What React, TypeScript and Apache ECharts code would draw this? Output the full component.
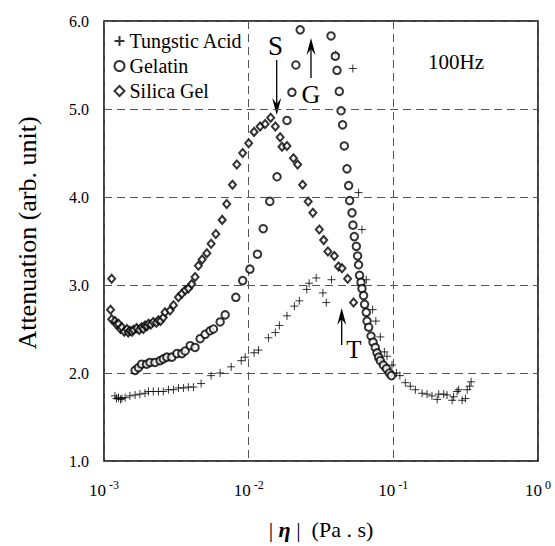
import React, { useEffect, useRef } from "react";
import * as echarts from "echarts";

const FONT = "Liberation Serif";

const seriesNames = ["Tungstic Acid", "Gelatin", "Silica Gel"];

const tungsticAcid: [number, number][] = [
  [0.00119, 1.74], [0.00122, 1.71], [0.00126, 1.72], [0.0013, 1.7], [0.00133, 1.71],
  [0.0014, 1.72], [0.00151, 1.74], [0.00164, 1.75], [0.00177, 1.76], [0.00192, 1.77],
  [0.00203, 1.79], [0.00219, 1.79], [0.00238, 1.79], [0.00257, 1.79], [0.00279, 1.81],
  [0.00302, 1.81], [0.00327, 1.83], [0.00354, 1.83], [0.00383, 1.84], [0.00415, 1.84],
  [0.00469, 1.88], [0.0055, 1.97], [0.00635, 2.0], [0.00757, 2.07], [0.00888, 2.14],
  [0.00946, 2.18], [0.0109, 2.23], [0.0117, 2.26], [0.0137, 2.4], [0.0153, 2.46],
  [0.0163, 2.54], [0.0184, 2.65], [0.0207, 2.76], [0.0224, 2.82], [0.0252, 2.95],
  [0.0262, 3.02], [0.0293, 3.08], [0.0326, 2.91], [0.0344, 2.8], [0.0374, 3.06],
  [0.04, 5.62], [0.0525, 5.46], [0.0575, 4.05], [0.0607, 3.63], [0.065, 3.06],
  [0.0719, 2.72], [0.0757, 2.59], [0.0813, 2.41], [0.0867, 2.24], [0.0904, 2.19],
  [0.0979, 2.09], [0.105, 2.0], [0.111, 1.97], [0.121, 1.89], [0.131, 1.85],
  [0.142, 1.81], [0.158, 1.77], [0.171, 1.76], [0.185, 1.74], [0.201, 1.7],
  [0.206, 1.76], [0.223, 1.76], [0.235, 1.75], [0.255, 1.69], [0.261, 1.73],
  [0.276, 1.79], [0.283, 1.81], [0.299, 1.69], [0.315, 1.71], [0.324, 1.81],
  [0.337, 1.85], [0.345, 1.9],
];

const gelatin: [number, number][] = [
  [0.00164, 2.03], [0.00173, 2.06], [0.00182, 2.1], [0.00197, 2.1], [0.00208, 2.12],
  [0.00225, 2.12], [0.00244, 2.14], [0.00257, 2.16], [0.00272, 2.18], [0.00294, 2.18],
  [0.00319, 2.22], [0.00345, 2.22], [0.00364, 2.25], [0.00394, 2.31], [0.00426, 2.29],
  [0.00462, 2.39], [0.005, 2.44], [0.00541, 2.48], [0.00571, 2.5], [0.00635, 2.58],
  [0.00688, 2.66], [0.00815, 2.86], [0.00909, 3.05], [0.0102, 3.18], [0.0115, 3.35],
  [0.0126, 3.64], [0.014, 3.95], [0.0157, 4.23], [0.0184, 4.87], [0.0199, 5.19],
  [0.0212, 5.5], [0.0227, 5.9], [0.0371, 5.83], [0.0397, 5.6], [0.0408, 5.44],
  [0.0423, 5.2], [0.0435, 4.98], [0.0446, 4.82], [0.0458, 4.58], [0.0478, 4.32],
  [0.0491, 4.13], [0.0499, 3.96], [0.0518, 3.82], [0.0526, 3.68], [0.0537, 3.55],
  [0.0555, 3.44], [0.0566, 3.33], [0.0575, 3.23], [0.0584, 3.11], [0.0598, 3.03],
  [0.0607, 2.96], [0.0623, 2.88], [0.0633, 2.78], [0.065, 2.69], [0.0658, 2.59],
  [0.0675, 2.52], [0.0701, 2.42], [0.0724, 2.35], [0.075, 2.29], [0.0771, 2.23],
  [0.0791, 2.18], [0.0813, 2.14], [0.0853, 2.09], [0.0895, 2.05], [0.0938, 2.0],
  [0.0969, 1.97],
];

const silicaGel: [number, number][] = [
  [0.00113, 3.07], [0.00111, 2.72], [0.00113, 2.61], [0.00119, 2.59], [0.00122, 2.55],
  [0.00126, 2.56], [0.0013, 2.5], [0.00133, 2.52], [0.00138, 2.47], [0.00144, 2.5],
  [0.00147, 2.46], [0.00151, 2.48], [0.00156, 2.47], [0.0016, 2.49], [0.00168, 2.51],
  [0.00175, 2.49], [0.00182, 2.52], [0.00187, 2.5], [0.00192, 2.54], [0.00198, 2.53],
  [0.00203, 2.56], [0.00211, 2.55], [0.00219, 2.58], [0.0023, 2.57], [0.00238, 2.6],
  [0.00246, 2.59], [0.00257, 2.63], [0.00264, 2.69], [0.00286, 2.71], [0.00302, 2.77],
  [0.00327, 2.86], [0.00345, 2.9], [0.00364, 2.94], [0.00383, 2.96], [0.00404, 3.01],
  [0.00426, 3.09], [0.00449, 3.22], [0.00477, 3.29], [0.00514, 3.36], [0.0055, 3.47],
  [0.00593, 3.58], [0.00656, 3.74], [0.00705, 3.92], [0.00773, 4.14], [0.00828, 4.37],
  [0.00909, 4.5], [0.01, 4.61], [0.0109, 4.74], [0.012, 4.8], [0.013, 4.83],
  [0.0142, 4.9], [0.0153, 4.8], [0.0165, 4.68], [0.017, 4.57], [0.0184, 4.58],
  [0.0204, 4.44], [0.0218, 4.37], [0.0236, 4.14], [0.0258, 3.95], [0.0278, 3.82],
  [0.0308, 3.63], [0.033, 3.51], [0.0353, 3.38], [0.0391, 3.33], [0.0418, 3.21],
  [0.0442, 3.19], [0.0483, 3.07], [0.0531, 2.8],
];

const xMin = 0.001;
const xMax = 1;
const yMin = 1;
const yMax = 6;
const yStep = 1;

const annotationLabels = ["S", "G", "T"];
const frequencyLabel = "100Hz";

const PLUS = "path://M0,5L10,5M5,0L5,10";

function arrowHead(x: number, tip: number, down: boolean) {
  const d = down ? -1 : 1;
  return [
    [x, tip],
    [x - 4.5, tip + d * 17],
    [x, tip + d * 11],
    [x + 4.5, tip + d * 17],
  ];
}

function arrow(x: number, tail: number, tip: number) {
  const down = tip > tail;
  return [
    {
      type: "line",
      shape: { x1: x, y1: tail, x2: x, y2: down ? tip - 10 : tip + 10 },
      style: { stroke: "#000", lineWidth: 1.3 },
      silent: true,
    },
    {
      type: "polygon",
      shape: { points: arrowHead(x, tip, down) },
      style: { fill: "#000" },
      silent: true,
    },
  ];
}

function label(text: string, x: number, y: number, size: number, align = "center") {
  return {
    type: "text",
    x,
    y,
    silent: true,
    style: {
      text,
      fill: "#000",
      fontSize: size,
      fontFamily: FONT,
      align,
      verticalAlign: "middle",
    },
  };
}

export default function App() {
  const ref = useRef<HTMLDivElement>(null);

  useEffect(() => {
    if (!ref.current) return;
    const chart = echarts.init(ref.current, undefined, { renderer: "svg" });
    const dashed = { color: "#555", width: 1, type: [8, 5] as number[] };
    const legendText = {
      fontSize: 20,
      fontFamily: "Liberation Serif, serif",
      fontStyle: "normal",
      fontWeight: "normal",
      color: "#000",
    };
    chart.setOption({
      animation: false,
      backgroundColor: "#fff",
      textStyle: { fontFamily: FONT, color: "#000" },
      grid: {
        left: 104,
        right: 17,
        top: 21,
        bottom: 85,
        show: true,
        borderColor: "#000",
        borderWidth: 1.5,
      },
      legend: {
        orient: "vertical",
        left: 107,
        top: 26,
        itemWidth: 10,
        itemHeight: 10,
        itemGap: 5,
        data: seriesNames,
        textStyle: legendText,
      },
      xAxis: {
        type: "log",
        logBase: 10,
        min: xMin,
        max: xMax,
        axisLine: { show: false },
        axisTick: { show: false },
        splitLine: { show: true, lineStyle: dashed },
        minorSplitLine: { show: false },
        axisLabel: {
          margin: 18,
          formatter: (v: number) => `{b|10}{s|${Math.round(Math.log10(v))}}`,
          rich: {
            b: { fontSize: 17, fontFamily: FONT, color: "#000", lineHeight: 22 },
            s: {
              fontSize: 12,
              fontFamily: FONT,
              color: "#000",
              lineHeight: 12,
              verticalAlign: "top",
              padding: [0, 0, 0, 3],
            },
          },
        },
        name: "{n|| }{e|η}{n| |  (Pa . s)}",
        nameLocation: "middle",
        nameGap: 57,
        nameTextStyle: {
          rich: {
            n: { fontSize: 22, fontFamily: FONT, color: "#000" },
            e: { fontSize: 22, fontFamily: FONT, color: "#000", fontStyle: "italic", fontWeight: "bold" },
          },
        },
      },
      yAxis: {
        type: "value",
        min: yMin,
        max: yMax,
        interval: yStep,
        axisLine: { show: false },
        axisTick: { show: false },
        splitLine: { show: true, lineStyle: dashed },
        axisLabel: {
          margin: 15,
          fontSize: 16,
          fontFamily: FONT,
          color: "#000",
          formatter: (v: number) => v.toFixed(1),
        },
        name: "Attenuation (arb. unit)",
        nameLocation: "middle",
        nameRotate: 90,
        nameGap: 64,
        nameTextStyle: { fontSize: 26, fontFamily: FONT, color: "#000", padding: [0, 0, 0, 16] },
      },
      series: [
        {
          name: seriesNames[0],
          type: "scatter",
          data: tungsticAcid,
          symbol: PLUS,
          symbolSize: 8,
          itemStyle: { color: "none", borderColor: "#000", borderWidth: 1 },
        },
        {
          name: seriesNames[1],
          type: "scatter",
          data: gelatin,
          symbol: "emptyCircle",
          symbolSize: 7.5,
          itemStyle: { color: "#000", borderColor: "#000", borderWidth: 1 },
        },
        {
          name: seriesNames[2],
          type: "scatter",
          data: silicaGel,
          symbol: "emptyDiamond",
          symbolSize: [7, 8],
          itemStyle: { color: "#000", borderColor: "#000", borderWidth: 1 },
        },
      ],
      graphic: [
        ...arrow(276.7, 60, 115),
        ...arrow(311, 78, 38),
        ...arrow(341.7, 345, 308),
        label(annotationLabels[0], 275.5, 46, 27),
        label(annotationLabels[1], 311, 94.5, 26),
        label(annotationLabels[2], 354, 349, 25),
        label(frequencyLabel, 428, 62, 21, "left"),
      ],
    });
    return () => chart.dispose();
  }, []);

  return (
    <div
      ref={ref}
      style={{ position: "fixed", left: 0, top: 0, width: 555, height: 546 }}
    />
  );
}
